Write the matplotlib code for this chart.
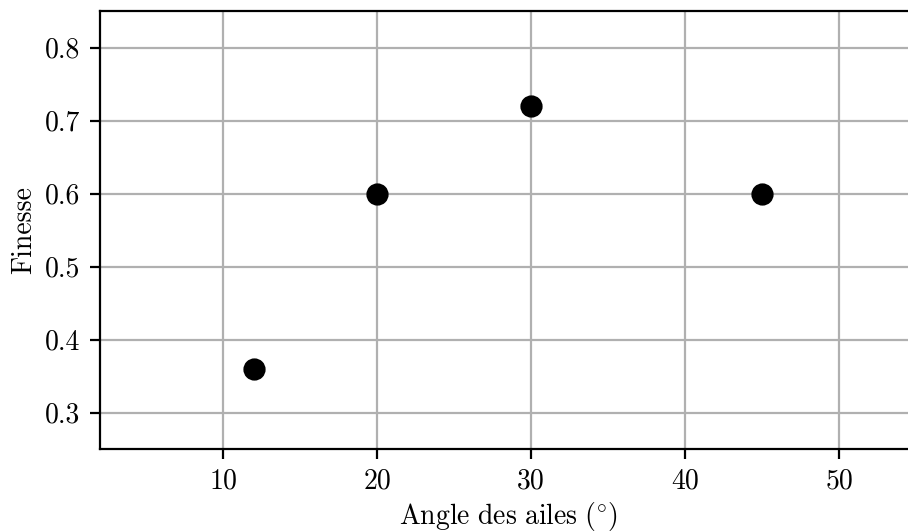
import matplotlib
matplotlib.use("Agg")
import matplotlib.pyplot as plt

angles = [12, 20, 30, 45]
finesse = [0.36, 0.60, 0.72, 0.60]
xticks = [10, 20, 30, 40, 50]
yticks = [0.3, 0.4, 0.5, 0.6, 0.7, 0.8]

plt.rcParams['font.family'] = 'serif'
plt.rcParams['font.serif'] = ['cmr10']
plt.rcParams['mathtext.fontset'] = 'cm'
plt.rcParams['axes.formatter.use_mathtext'] = True
plt.rcParams['font.size'] = 10

fig = plt.figure(figsize=(4.54, 2.655), dpi=200)
ax = fig.add_axes([100/908, (531-449)/531, (55-2)*15.4/908, (449-11)/531])
ax.grid(True, color='#b0b0b0', linewidth=0.8)
ax.set_axisbelow(True)
ax.plot(angles, finesse, 'o', color='black', markersize=7, zorder=3)
ax.set_xlim(2, 55)
ax.set_ylim(0.25, 0.85)
ax.set_xticks(xticks)
ax.set_yticks(yticks)
ax.set_xticklabels([str(t) for t in xticks])
ax.set_yticklabels([f"{t:.1f}" for t in yticks])
ax.set_xlabel(r"$\mathrm{Angle\ des\ ailes\ (\!^\circ\!)}$", labelpad=1.8)
ax.set_ylabel("Finesse", labelpad=2.8)
fig.savefig("out.png", dpi=200)
